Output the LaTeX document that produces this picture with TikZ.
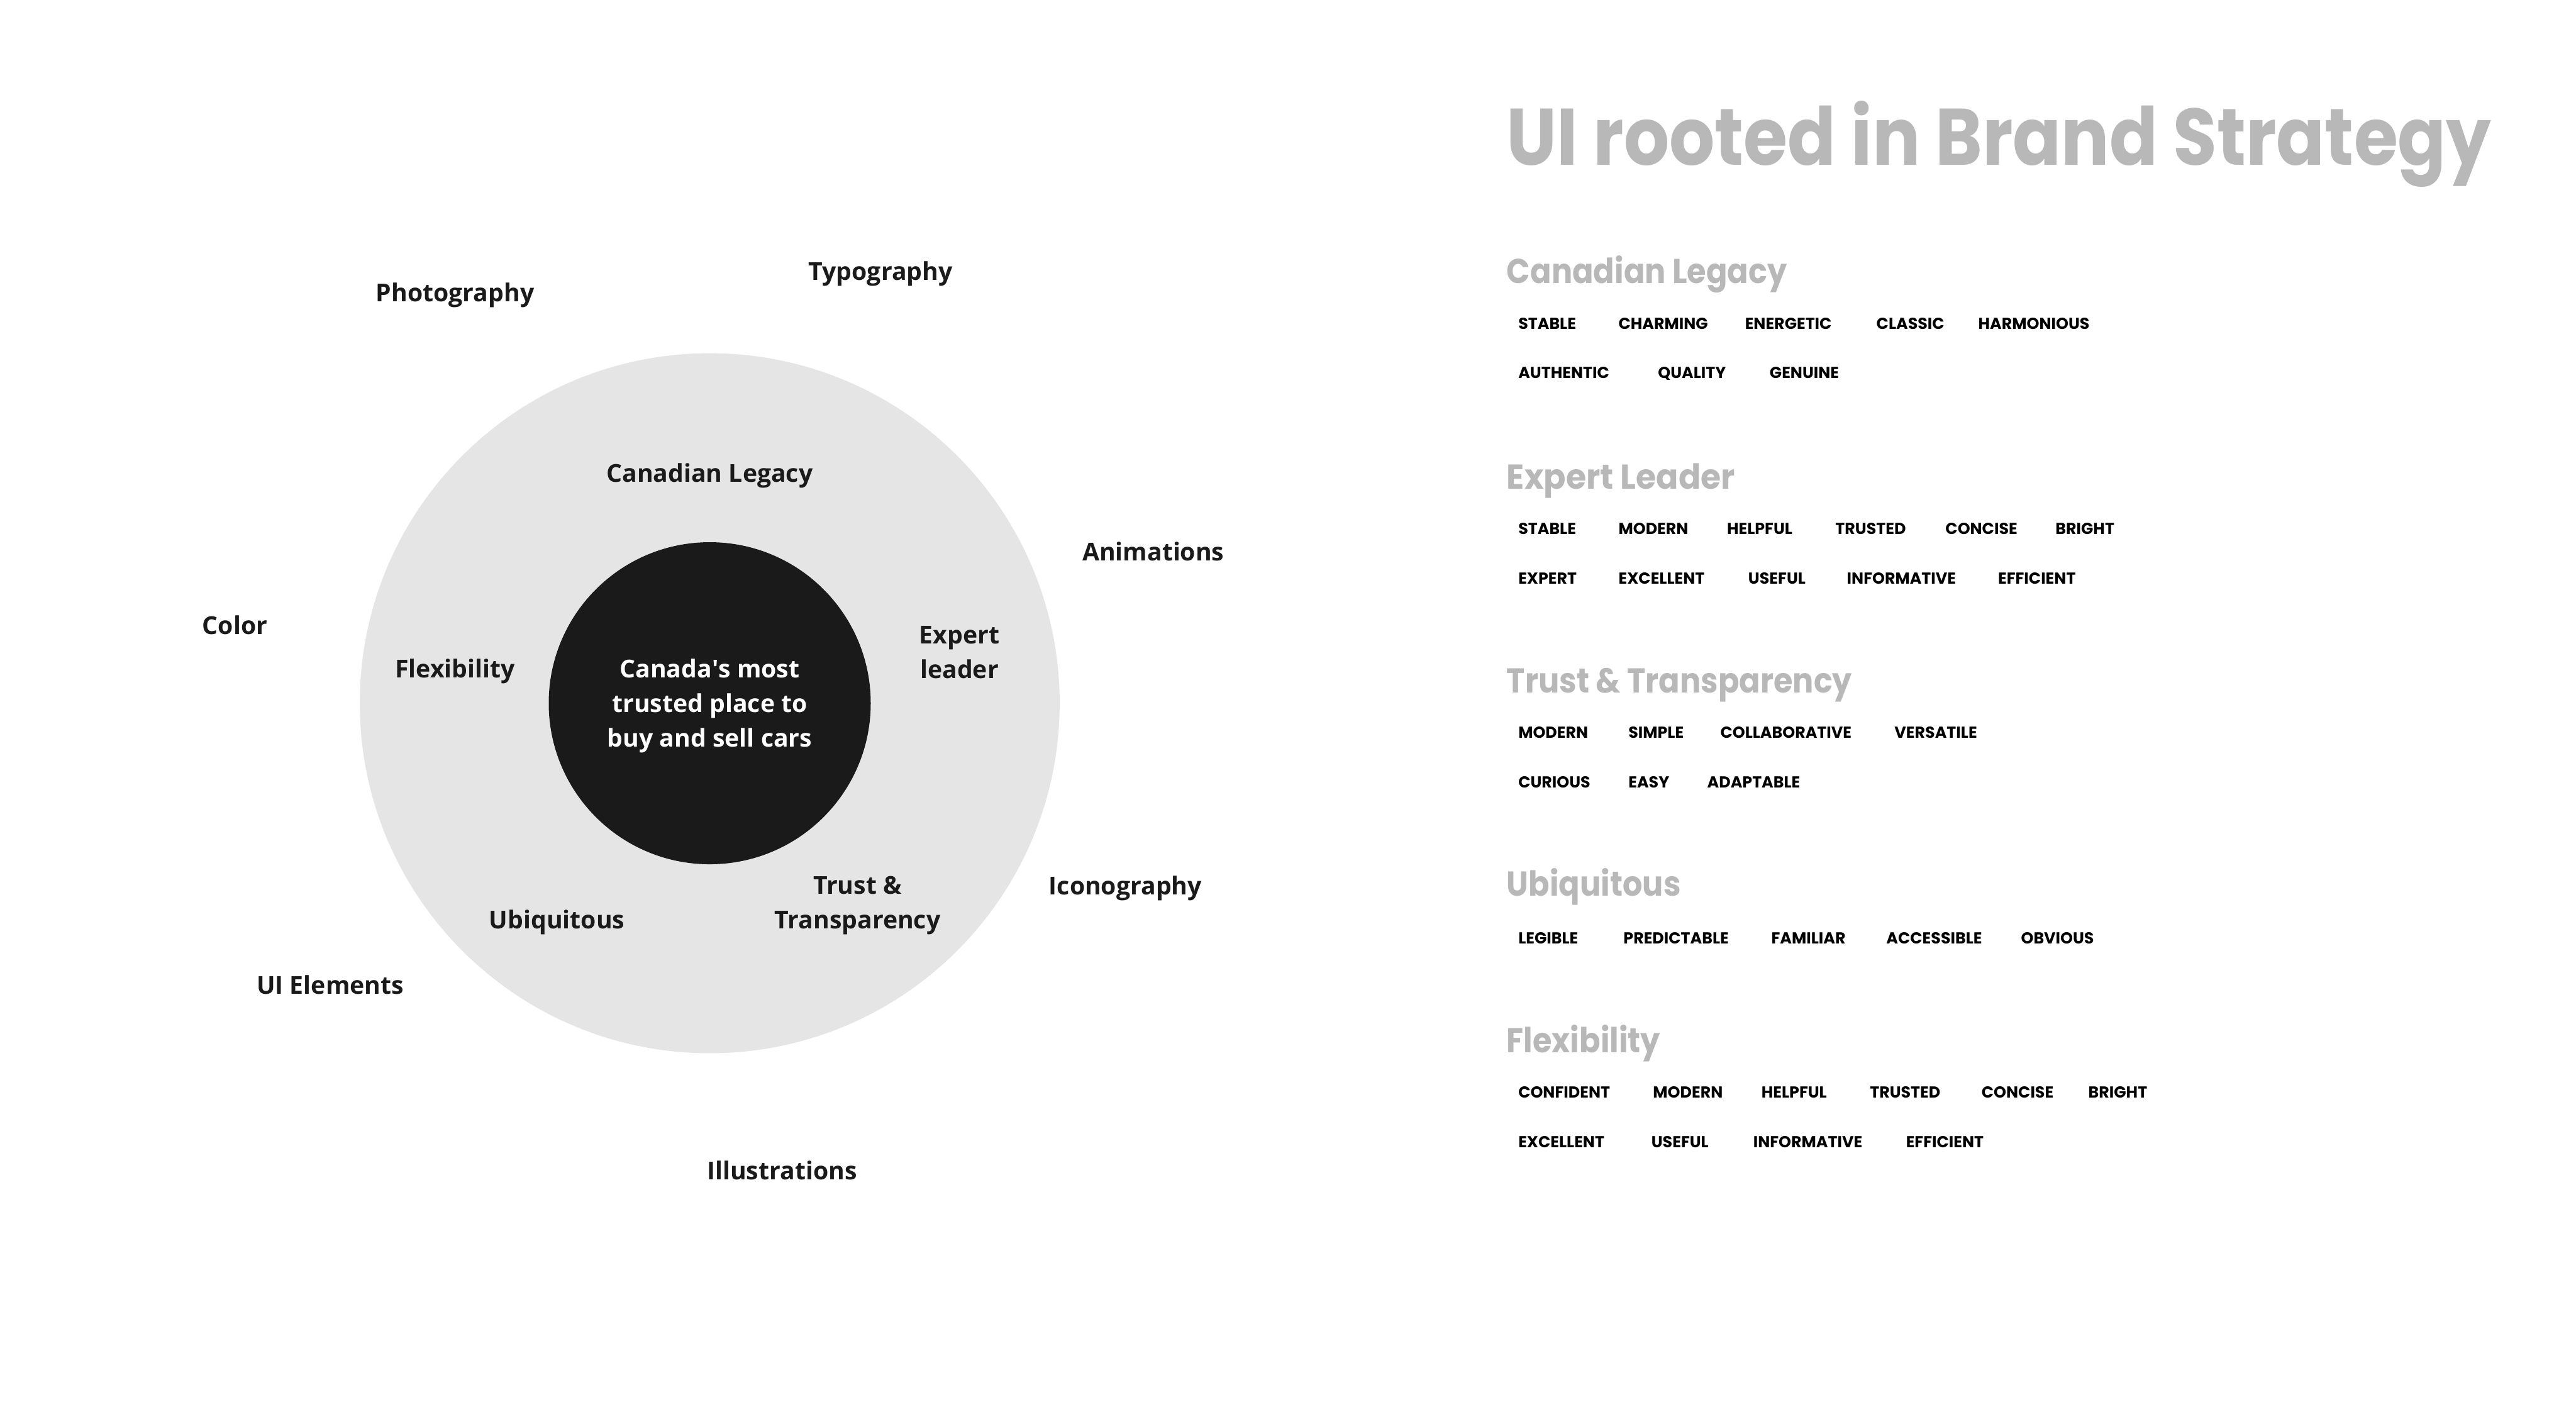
\documentclass[tikz,border=0pt]{standalone}
\usepackage{fontspec}
\setmainfont{Open Sans}
\newfontfamily\popfont{Poppins}
\definecolor{ringgray}{HTML}{E5E5E5}
\definecolor{coreblack}{HTML}{1A1A1A}
\definecolor{headgray}{HTML}{B8B8B8}
\begin{document}
\begin{tikzpicture}[x=1pt,y=-1pt,
  lbl/.style={font=\fontsize{15}{21}\selectfont\bfseries, text=coreblack, align=center, inner sep=0, yshift=-1.5pt},
  tag/.style={font=\popfont\fontsize{9.7}{10}\selectfont\bfseries, anchor=base west, inner sep=0, text=black},
  head/.style={font=\popfont\fontsize{21}{24}\selectfont\bfseries, text=headgray, anchor=base west, inner sep=0},
  titlestyle/.style={font=\popfont\fontsize{48.8}{55}\selectfont\bfseries, text=headgray, anchor=base west, inner sep=0},
]
\useasboundingbox[fill=white] (0,0) rectangle (1568,853);
% rings
\node[circle, fill=ringgray, minimum size=426pt, inner sep=0] (ring) at (432,428) {};
\node[circle, fill=coreblack, minimum size=196pt, inner sep=0] (core) at (432,428) {};
\node[lbl, text=white] (coretext) at (432,428) {Canada\textquotesingle s most\\trusted place to\\buy and sell cars};
% ring labels
\node[lbl] (canleg) at (432,288) {Canadian Legacy};
\node[lbl] (flex) at (277,407) {Flexibility};
\node[lbl] (expert) at (584,395.5) {Expert\\leader};
\node[lbl] (ubiq) at (339,560) {Ubiquitous};
\node[lbl] (trust) at (522,549.5) {Trust \&\\Transparency};
% outer labels
\node[lbl] (photo) at (277,178) {Photography};
\node[lbl] (typo) at (536,165) {Typography};
\node[lbl] (anim) at (702,334) {Animations};
\node[lbl] (color) at (143,379) {Color};
\node[lbl] (icon) at (685,539) {Iconography};
\node[lbl] (uiel) at (201,598) {UI Elements};
\node[lbl] (illu) at (476,711) {Illustrations};
% right panel
\node[titlestyle] (title) at (917,100.5) {\scalebox{0.89}[1]{UI rooted in Brand Strategy}};
\node[head] (h1) at (917,172.5) {\scalebox{0.9}[1]{Canadian Legacy}};
\node[head] (h2) at (917,297.5) {\scalebox{0.95}[1]{Expert Leader}};
\node[head] (h3) at (917,421.5) {\scalebox{0.9}[1]{Trust \& Transparency}};
\node[head] (h4) at (917,545.5) {\scalebox{0.9}[1]{Ubiquitous}};
\node[head] (h5) at (917,640.5) {\scalebox{0.9}[1]{Flexibility}};
% tags
\foreach \x/\w [count=\i] in {924/STABLE,985/CHARMING,1062/ENERGETIC,1142/CLASSIC,1204/HARMONIOUS}
  \node[tag] (a1-\i) at (\x,200.3) {\w};
\foreach \x/\w [count=\i] in {924/AUTHENTIC,1009/QUALITY,1077/GENUINE}
  \node[tag] (a2-\i) at (\x,230.3) {\w};
\foreach \x/\w [count=\i] in {924/STABLE,985/MODERN,1051/HELPFUL,1117/TRUSTED,1184/CONCISE,1251/BRIGHT}
  \node[tag] (b1-\i) at (\x,325.3) {\w};
\foreach \x/\w [count=\i] in {924/EXPERT,985/EXCELLENT,1064/USEFUL,1124/INFORMATIVE,1216/EFFICIENT}
  \node[tag] (b2-\i) at (\x,355.3) {\w};
\foreach \x/\w [count=\i] in {924/MODERN,991/SIMPLE,1047/COLLABORATIVE,1153/VERSATILE}
  \node[tag] (c1-\i) at (\x,449.3) {\w};
\foreach \x/\w [count=\i] in {924/CURIOUS,991/EASY,1039/ADAPTABLE}
  \node[tag] (c2-\i) at (\x,479.3) {\w};
\foreach \x/\w [count=\i] in {924/LEGIBLE,988/PREDICTABLE,1078/FAMILIAR,1148/ACCESSIBLE,1230/OBVIOUS}
  \node[tag] (d1-\i) at (\x,574.3) {\w};
\foreach \x/\w [count=\i] in {924/CONFIDENT,1006/MODERN,1072/HELPFUL,1138/TRUSTED,1206/CONCISE,1271/BRIGHT}
  \node[tag] (e1-\i) at (\x,668.3) {\w};
\foreach \x/\w [count=\i] in {924/EXCELLENT,1005/USEFUL,1067/INFORMATIVE,1160/EFFICIENT}
  \node[tag] (e2-\i) at (\x,698.3) {\w};
\end{tikzpicture}
\end{document}
